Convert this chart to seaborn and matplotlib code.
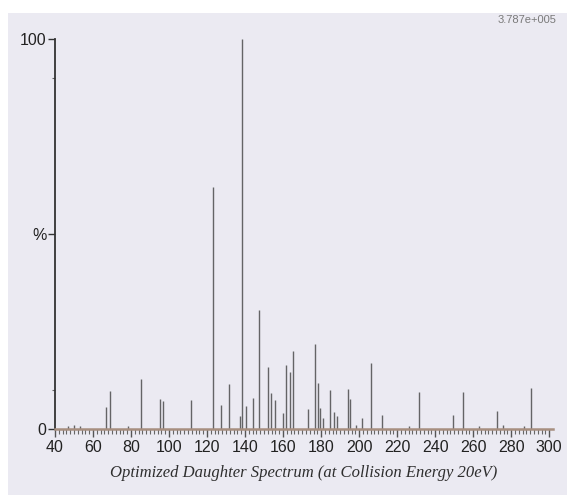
import numpy as np
import pandas as pd
import seaborn as sns
import matplotlib.pyplot as plt

# peaks (m/z, relative intensity %)
mz = [47, 50, 53, 67, 69, 78.5, 85, 95.5, 97, 111.5, 123, 127.3, 131.3,
      137.5, 138.5, 140.5, 144, 147.3, 151.8, 153.8, 155.9, 159.7, 161.4,
      163.6, 165.4, 173, 176.6, 178.6, 179.4, 180.8, 184.7, 187, 188.3,
      194.4, 195.3, 198.3, 201.7, 206.3, 212.2, 226, 231.6, 249.3, 254.8,
      263, 272.7, 275.8, 287, 290.3]
intensity = [0.8, 0.9, 0.7, 5.6, 9.8, 0.8, 12.8, 7.6, 7.2, 7.5, 62, 6.2, 11.5,
             3.4, 100, 5.8, 8, 30.5, 16, 9.3, 7.5, 4.2, 16.3,
             14.5, 20, 5.2, 21.7, 11.8, 5.5, 2.7, 10, 4.4, 3.4,
             10.2, 7.6, 1, 2.7, 17, 3.7, 0.8, 9.4, 3.5, 9.5,
             0.8, 4.5, 1, 0.8, 10.5]
xticks = list(range(40, 301, 20))
base_peak = "3.787e+005"
xlabel = "Optimized Daughter Spectrum (at Collision Energy 20eV)"

spec = pd.DataFrame({"mz": mz, "intensity": intensity})

sns.set_style("ticks")
paper = "#ebeaf2"
fig = plt.figure(figsize=(5.67, 4.95), dpi=100)
fig.patch.set_facecolor("white")
# scanned page area (white strip at top and left)
fig.patches.append(plt.Rectangle((8 / 567, 0), 1, 1 - 13 / 495,
                                 transform=fig.transFigure,
                                 facecolor=paper, edgecolor="none", zorder=-10))

ax = fig.add_axes([55 / 567, 66 / 495, 498 / 567, 390 / 495])
ax.set_facecolor("none")
ax.vlines(spec["mz"], 0, spec["intensity"], color="#4d4d4d",
          linewidth=1.0, alpha=0.85)

ax.set_xlim(40, 302)
ax.set_ylim(0, 100)
sns.despine(ax=ax, top=True, right=True)
ax.spines["left"].set_color("#333333")
ax.spines["left"].set_linewidth(1.3)
ax.spines["bottom"].set_color("#a78f80")
ax.spines["bottom"].set_linewidth(1.8)

narrow = ["Liberation Sans Narrow", "Liberation Sans", "DejaVu Sans"]
ax.set_xticks(xticks)
ax.set_xticks(np.arange(40, 301, 2), minor=True)
ax.set_xticklabels([str(t) for t in xticks], family=narrow, fontsize=11.5,
                   color="#222222")
ax.tick_params(axis="x", which="major", length=6, width=1, color="#555555",
               pad=2)
ax.tick_params(axis="x", which="minor", length=3.5, width=0.8,
               color="#666666")

ax.set_yticks([0, 50, 100])
ax.set_yticks([10, 90], minor=True)
ax.set_yticklabels(["0", "%", "100"], family=narrow, fontsize=11.5,
                   color="#222222")
ax.tick_params(axis="y", which="major", length=5, width=1, color="#333333",
               pad=1)
ax.tick_params(axis="y", which="minor", length=2, width=0.8,
               color="#666666")

ax.set_xlabel(xlabel, family="Liberation Serif", style="italic",
              fontsize=12, color="#2e2e2e", labelpad=7)

fig.text(556 / 567, 1 - 20 / 495, base_peak, ha="right", va="center",
         family=narrow, fontsize=8, color="#7a7a7a")

fig.savefig("out.png", dpi=100)
